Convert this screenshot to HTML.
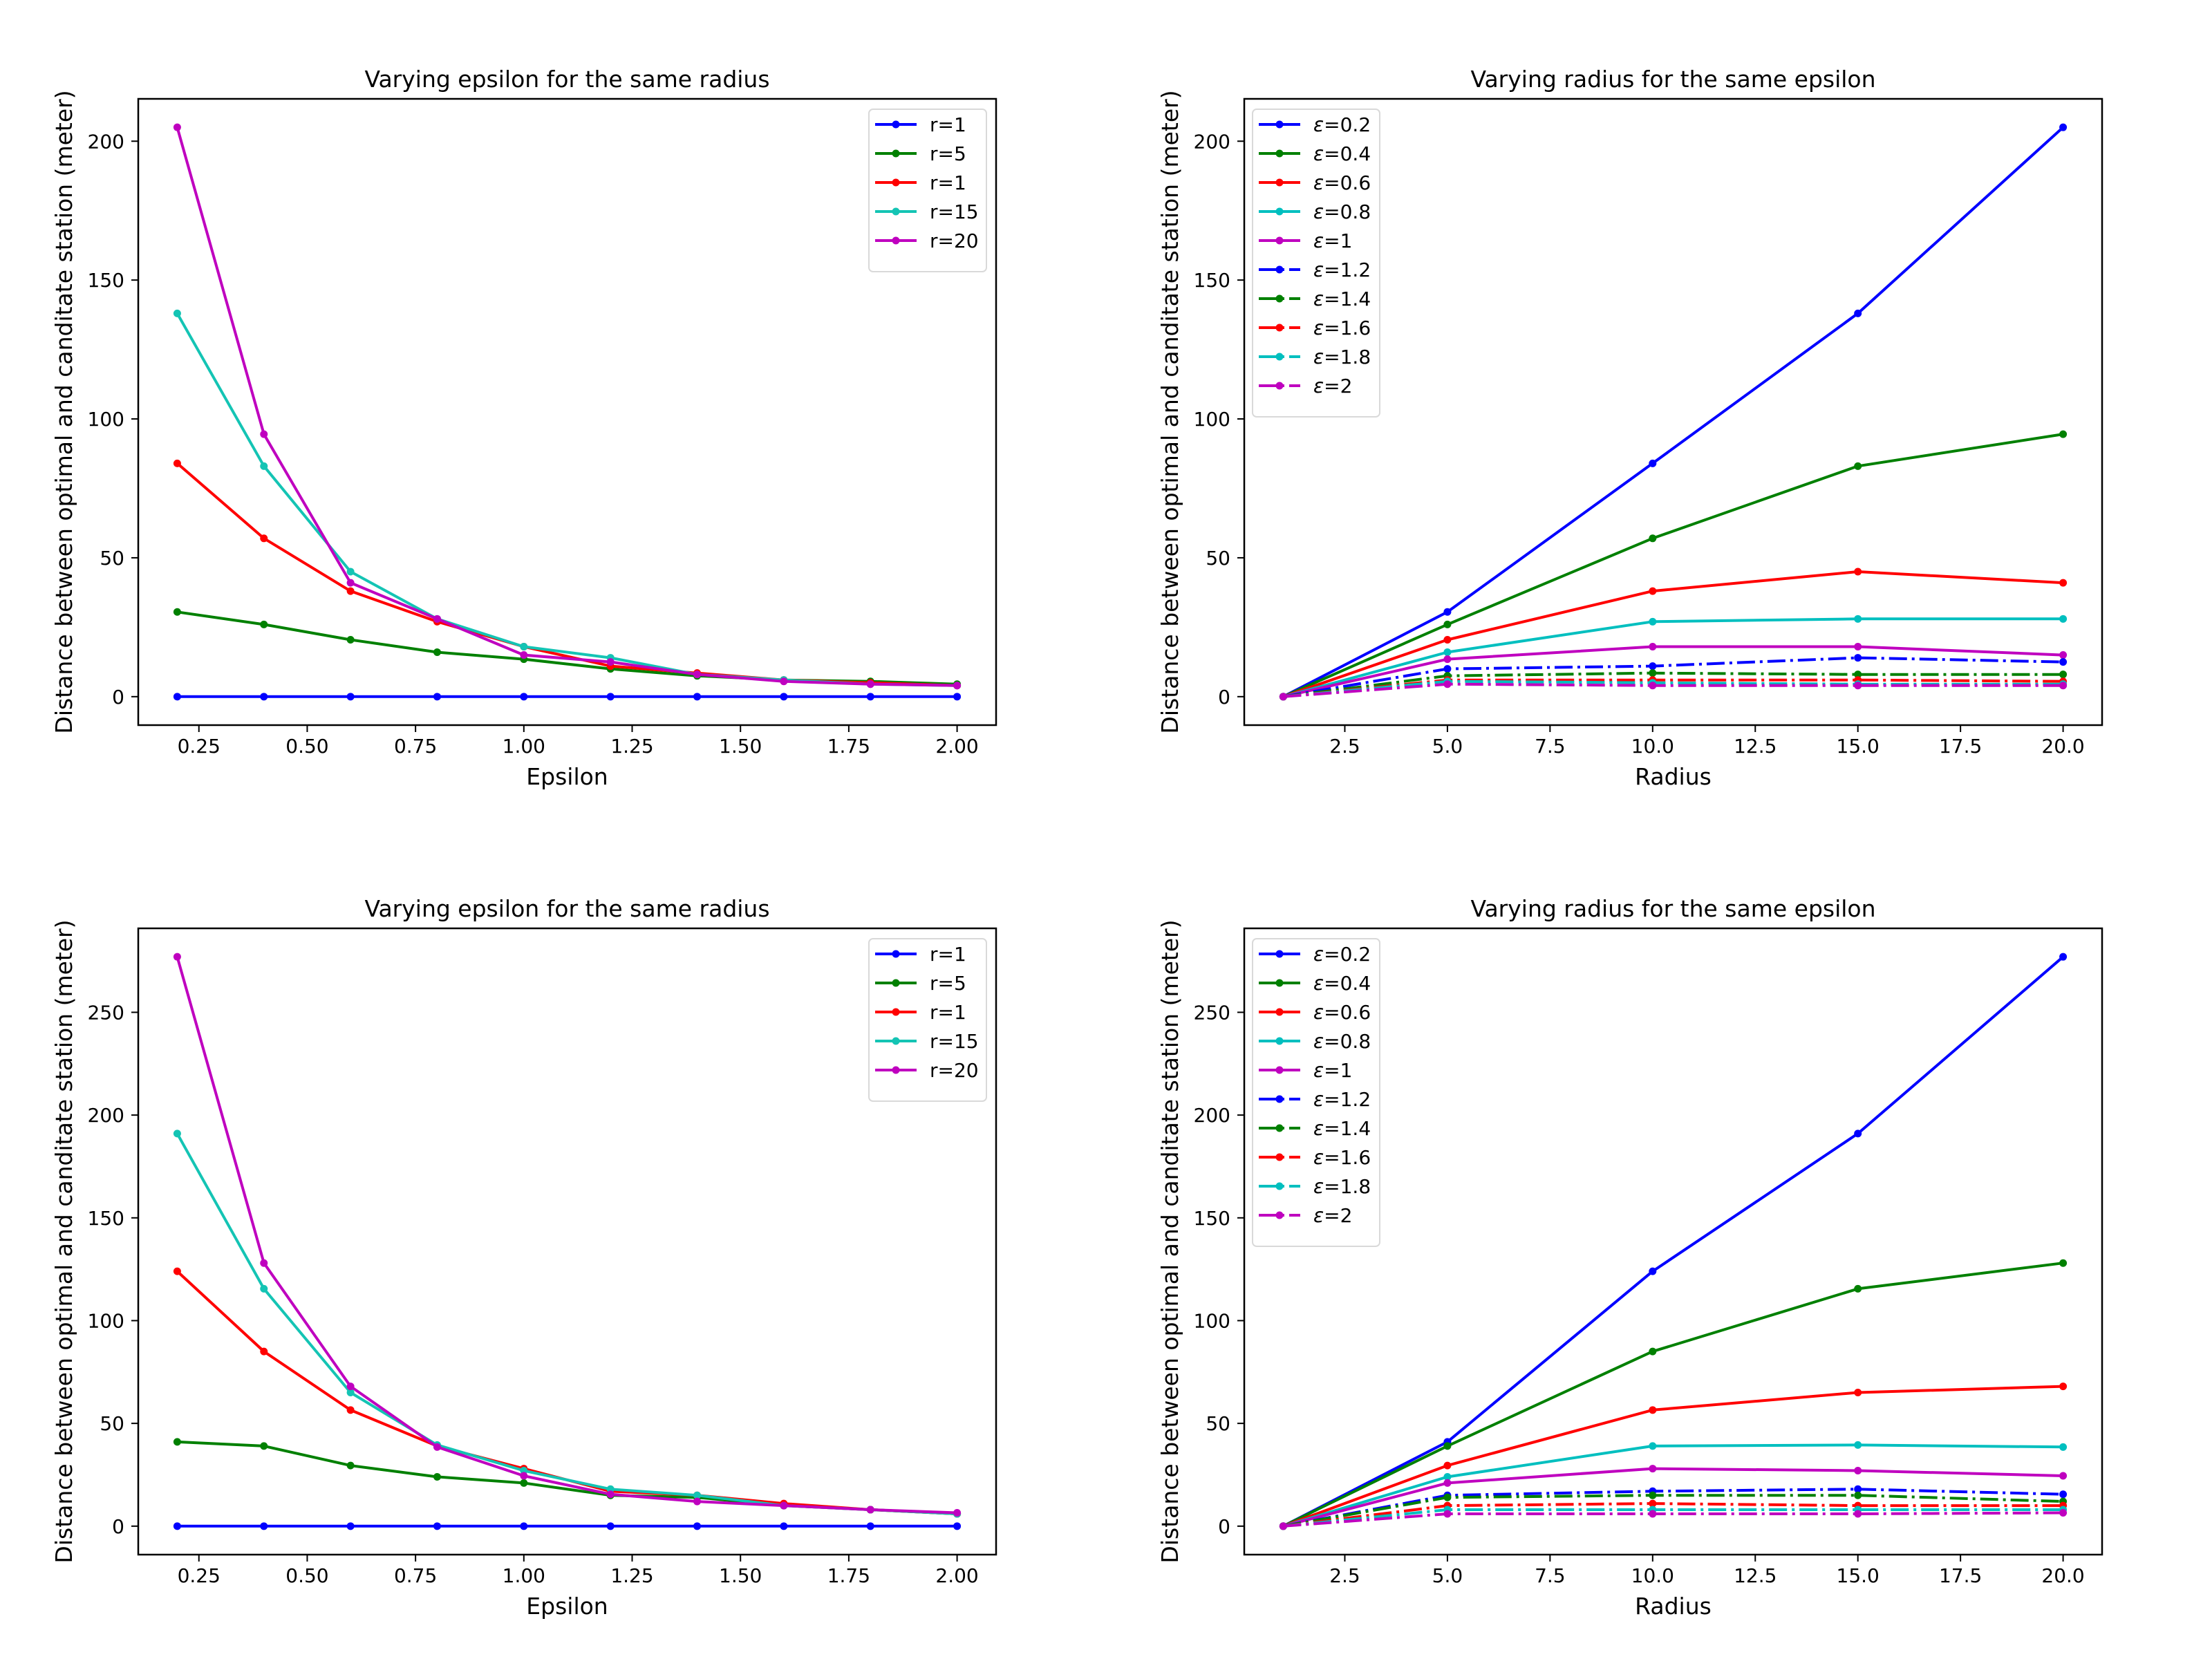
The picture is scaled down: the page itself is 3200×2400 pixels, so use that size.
<!DOCTYPE html>
<html><head><meta charset="utf-8"><style>
html,body{margin:0;padding:0;background:#fff;}
svg{display:block;}
text{font-family:"DejaVu Sans","Liberation Sans",sans-serif;fill:#000;}
</style></head><body>
<svg id="fig" width="3200" height="2400" viewBox="0 0 3200 2400" xmlns="http://www.w3.org/2000/svg"></svg>
<script>
// ---- data ----
const epsilons = [0.2,0.4,0.6,0.8,1.0,1.2,1.4,1.6,1.8,2.0];
const radii = [1,5,10,15,20];
const radiusLabels = ["r=1","r=5","r=1","r=15","r=20"];
const epsLabels = ["0.2","0.4","0.6","0.8","1","1.2","1.4","1.6","1.8","2"];
// top row: values[r][eps]
const topR1  = [0,0,0,0,0,0,0,0,0,0];
const topR5  = [30.5,26,20.5,16,13.5,10,7.5,6,5.5,4.5];
const topR10 = [84,57,38,27,18,11,8.5,6,5,4];
const topR15 = [138,83,45,28,18,14,8,6,4.5,4];
const topR20 = [205,94.5,41,28,15,12.5,8,5.5,4.5,4];
// bottom row
const botR1  = [0,0,0,0,0,0,0,0,0,0];
const botR5  = [41,39,29.5,24,21,15,14,10,8,6];
const botR10 = [124,85,56.5,39,28,17,15,11,8,6];
const botR15 = [191,115.5,65,39.5,27,18,15,10,8,6];
const botR20 = [277,128,68,38.5,24.5,15.5,12,10,8,6.5];
const topTicksY = [0,50,100,150,200];
const botTicksY = [0,50,100,150,200,250];
const epsTicks = ["0.25","0.50","0.75","1.00","1.25","1.50","1.75","2.00"];
const radTicks = ["2.5","5.0","7.5","10.0","12.5","15.0","17.5","20.0"];

const colorsL = ["#0000ff","#008000","#ff0000","#14c4b4","#bf00bf"];
const colorsR = ["#0000ff","#008000","#ff0000","#00bfbf","#bf00bf"];
const NS="http://www.w3.org/2000/svg";
const svg=document.getElementById('fig');
function mk(tag,attrs,parent){const e=document.createElementNS(NS,tag);for(const k in attrs)e.setAttribute(k,attrs[k]);(parent||svg).appendChild(e);return e;}

function panel(ox,oy,rows,yTicks,isRadius,title,xlabel,pname){
  const L=200+ox,R=1441+ox,T=143+oy,B=1049+oy;
  const g=mk('g',{});
  
  
  let ymax=0;rows.forEach(r=>r.forEach(v=>{if(v>ymax)ymax=v;}));
  const y0=-ymax*0.05,y1=ymax*1.05;
  const xmin=isRadius?1:0.2,xmax=isRadius?20:2.0,xr=xmax-xmin;
  const x0=xmin-xr*0.05,x1=xmax+xr*0.05;
  const sx=v=>L+(v-x0)/(x1-x0)*(R-L);
  const sy=v=>B-(v-y0)/(y1-y0)*(B-T);
  yTicks.forEach(t=>{
    const y=sy(t);
    const tk=mk('line',{x1:L-10,x2:L,y1:y,y2:y,stroke:'#000','stroke-width':2},g);
    
    
    const tx=mk('text',{x:L-20,y:y+10,'font-size':28,'text-anchor':'end'},g);
    
    
    tx.textContent=t;
  });
  const xt=isRadius?radTicks:epsTicks;
  xt.forEach(s=>{
    const x=sx(parseFloat(s));
    const tk=mk('line',{x1:x,x2:x,y1:B,y2:B+10,stroke:'#000','stroke-width':2},g);
    
    
    const tx=mk('text',{x:x,y:B+40,'font-size':28,'text-anchor':'middle'},g);
    
    
    tx.textContent=s;
  });
  const series=[];
  if(!isRadius){
    rows.forEach((r,i)=>series.push({xs:epsilons,ys:r,c:colorsL[i],dash:null,label:radiusLabels[i]}));
  } else {
    for(let e=0;e<epsilons.length;e++){
      series.push({xs:radii,ys:rows.map(r=>r[e]),c:colorsR[e%5],dash:e>=5?'26,7,4,7':null,label:epsLabels[e]});
    }
  }
  const sg=mk('g',{},g);
  series.forEach((s,i)=>{
    const pts=s.xs.map((x,j)=>sx(x).toFixed(1)+','+sy(s.ys[j]).toFixed(1)).join(' ');
    const pl=mk('polyline',{points:pts,fill:'none',stroke:s.c,'stroke-width':4,'stroke-linejoin':'round'},sg);
    if(s.dash)pl.setAttribute('stroke-dasharray',s.dash);
    
    
    s.xs.forEach((x,j)=>{
      const c=mk('circle',{cx:sx(x),cy:sy(s.ys[j]),r:5.5,fill:s.c},sg);
      
      
    });
  });
  const fr=mk('rect',{x:L,y:T,width:R-L,height:B-T,fill:'none',stroke:'#000','stroke-width':2.5},g);
  
  
  const tt=mk('text',{x:(L+R)/2,y:T-17,'font-size':33,'text-anchor':'middle'},g);
  
  
  tt.textContent=title;
  const xl=mk('text',{x:(L+R)/2,y:B+86,'font-size':33,'text-anchor':'middle'},g);
  
  
  xl.textContent=xlabel;
  const yl=mk('text',{x:0,y:0,'font-size':33,'text-anchor':'middle',transform:`translate(${ox+104},${(T+B)/2}) rotate(-90)`},g);
  
  
  yl.textContent='Distance between optimal and canditate station (meter)';
  const lg=mk('g',{},g);
  
  
  let bx,bw;
  if(!isRadius){bx=1257+ox;bw=170;}else{bx=12+L;bw=184;}
  const bh=series.length*42+25;
  mk('rect',{x:bx,y:T+15,width:bw,height:bh,rx:6,fill:'#fff','fill-opacity':0.8,stroke:'#d9d9d9','stroke-width':2},lg);
  series.forEach((s,i)=>{
    const y=T+37+i*42;
    const e=mk('g',{},lg);
    
    
    const ln=mk('line',{x1:bx+9,x2:bx+69,y1:y,y2:y,stroke:s.c,'stroke-width':4},e);
    if(s.dash)ln.setAttribute('stroke-dasharray','26,7,4,7');
    mk('circle',{cx:bx+39,cy:y,r:5.5,fill:s.c},e);
    const t=mk('text',{x:bx+88,y:y+10,'font-size':28},e);
    if(isRadius){
      const a=mk('tspan',{'font-style':'italic'},t);a.textContent='ε';
      const b=mk('tspan',{},t);b.textContent='='+s.label;
    } else t.textContent=s.label;
  });
}
panel(0,0,[topR1,topR5,topR10,topR15,topR20],topTicksY,false,'Varying epsilon for the same radius','Epsilon','panel-top-left');
panel(1600,0,[topR1,topR5,topR10,topR15,topR20],topTicksY,true,'Varying radius for the same epsilon','Radius','panel-top-right');
panel(0,1200,[botR1,botR5,botR10,botR15,botR20],botTicksY,false,'Varying epsilon for the same radius','Epsilon','panel-bottom-left');
panel(1600,1200,[botR1,botR5,botR10,botR15,botR20],botTicksY,true,'Varying radius for the same epsilon','Radius','panel-bottom-right');
</script>
</body></html>
